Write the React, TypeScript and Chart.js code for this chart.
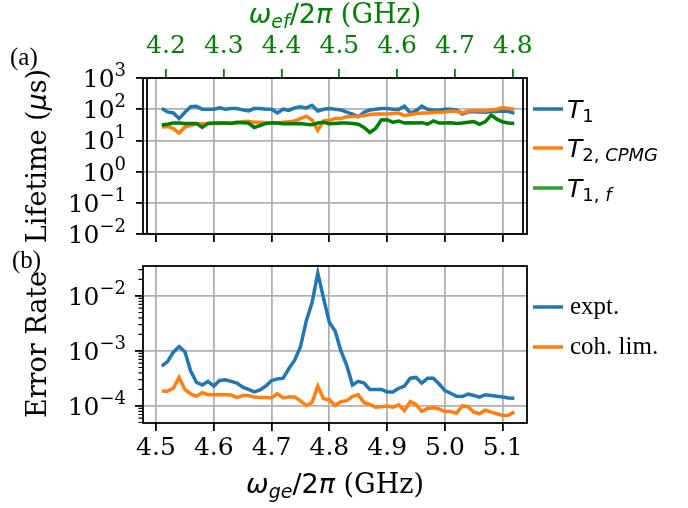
import React, { useEffect, useRef } from "react";
import { Chart, registerables } from "chart.js";
Chart.register(...registerables);

// ---------- data ----------
const freqGe = [
  4.51, 4.52, 4.53, 4.54, 4.55, 4.56, 4.57, 4.58, 4.59, 4.6,
  4.61, 4.62, 4.63, 4.64, 4.65, 4.66, 4.67, 4.68, 4.69, 4.7,
  4.71, 4.72, 4.73, 4.74, 4.75, 4.76, 4.77, 4.78, 4.79, 4.8,
  4.81, 4.82, 4.83, 4.84, 4.85, 4.86, 4.87, 4.88, 4.89, 4.9,
  4.91, 4.92, 4.93, 4.94, 4.95, 4.96, 4.97, 4.98, 4.99, 5.0,
  5.01, 5.02, 5.03, 5.04, 5.05, 5.06, 5.07, 5.08, 5.09, 5.1,
  5.11, 5.12,
];
const t1 = [
  105, 82, 76, 50, 80, 120, 125, 100, 100, 100,
  110, 100, 105, 105, 95, 88, 105, 105, 100, 100,
  76, 100, 92, 110, 120, 110, 134, 88, 100, 105,
  100, 95, 80, 70, 57, 80, 95, 100, 105, 105,
  100, 100, 125, 75, 88, 125, 100, 95, 92, 100,
  100, 95, 70, 82, 85, 82, 80, 85, 85, 88,
  85, 73,
];
const t2Cpmg = [
  27, 28, 24, 17, 27, 30, 34, 34, 35, 35,
  35, 36, 36, 36, 40, 40, 38, 38, 37, 37,
  37, 38, 40, 42, 50, 60, 45, 21, 42, 44,
  50, 50, 57, 58, 60, 62, 68, 70, 70, 70,
  73, 75, 62, 68, 72, 76, 76, 78, 80, 82,
  86, 86, 76, 86, 90, 90, 88, 95, 100, 113,
  105, 100,
];
const t1f = [
  31, 33, 36, 36, 35, 35, 35, 26, 35, 36,
  36, 36, 35, 38, 37, 36, 26, 30, 35, 36,
  36, 34, 35, 34, 35, 33, 32, 36, 38, 34,
  35, 36, 36, 35, 33, 26, 18, 24, 45, 46,
  38, 42, 36, 37, 36, 37, 33, 42, 36, 36,
  37, 35, 36, 38, 40, 33, 40, 65, 48, 39,
  36, 35,
];
const errExpt = [
  5.3e-4, 6.4e-4, 9.5e-4, 1.2e-3, 9.7e-4, 4.3e-4, 2.7e-4, 2.4e-4, 2.8e-4, 2.3e-4,
  2.9e-4, 3.0e-4, 2.8e-4, 2.6e-4, 2.2e-4, 2.0e-4, 1.8e-4, 1.95e-4, 2.3e-4, 2.9e-4,
  3.1e-4, 3.2e-4, 4.8e-4, 6.8e-4, 1.2e-3, 3.5e-3, 7.5e-3, 2.6e-2, 9.0e-3, 3.3e-3,
  2.3e-3, 1.0e-3, 5.5e-4, 2.4e-4, 2.8e-4, 2.6e-4, 2.0e-4, 2.0e-4, 2.0e-4, 1.8e-4,
  1.8e-4, 2.1e-4, 2.3e-4, 3.2e-4, 3.3e-4, 2.6e-4, 3.2e-4, 3.2e-4, 2.5e-4, 1.9e-4,
  1.7e-4, 1.5e-4, 1.48e-4, 1.65e-4, 1.55e-4, 1.45e-4, 1.6e-4, 1.55e-4, 1.5e-4, 1.45e-4,
  1.4e-4, 1.38e-4,
];
const errCoh = [
  1.87e-4, 1.85e-4, 2.1e-4, 3.3e-4, 2.0e-4, 1.65e-4, 1.5e-4, 1.75e-4, 1.6e-4, 1.6e-4,
  1.6e-4, 1.6e-4, 1.58e-4, 1.42e-4, 1.55e-4, 1.55e-4, 1.45e-4, 1.43e-4, 1.42e-4, 1.4e-4,
  1.67e-4, 1.4e-4, 1.45e-4, 1.45e-4, 1.24e-4, 1.02e-4, 1.15e-4, 2.3e-4, 1.35e-4, 1.3e-4,
  1.02e-4, 1.2e-4, 1.25e-4, 1.48e-4, 1.6e-4, 1.15e-4, 1.07e-4, 0.95e-4, 0.97e-4, 1.0e-4,
  0.95e-4, 1.05e-4, 0.82e-4, 1.2e-4, 1.07e-4, 0.8e-4, 0.9e-4, 0.93e-4, 0.88e-4, 0.79e-4,
  0.79e-4, 0.74e-4, 1.0e-4, 0.97e-4, 0.77e-4, 0.72e-4, 0.84e-4, 0.77e-4, 0.72e-4, 0.67e-4,
  0.68e-4, 0.78e-4,
];
const geTicks = [4.5, 4.6, 4.7, 4.8, 4.9, 5.0, 5.1];
const efTicks = [4.2, 4.3, 4.4, 4.5, 4.6, 4.7, 4.8];
const efOffset = 0.3173; // omega_ge - omega_ef (GHz)
const geRange = [4.4775, 5.142];
const lifetimeExps = [-2, -1, 0, 1, 2, 3];
const lifetimeRange = [1e-2, 1e3];
const errorExps = [-4, -3, -2];
const errorRange = [4.9e-5, 3.5e-2];

// ---------- style ----------
const BLUE = "#1f77b4";
const ORANGE = "#ff7f0e";
const GREEN = "#008000";
const GREEN_LEG = "#2ca02c";
const GRID = "#b0b0b0";
const SERIF = "'DejaVu Serif'";
const SANS = "'DejaVu Sans'";
const TIMES = "'Liberation Serif'";
const TICK_FONT = `25px ${SERIF}`;
const SUP_FONT = `18px ${SERIF}`;
const LS = 27;

type Run = { text: string; font: string; dy?: number };

function drawRuns(ctx: CanvasRenderingContext2D, runs: Run[], x: number, y: number, align: string, color: string) {
  let w = 0;
  for (const r of runs) {
    ctx.font = r.font;
    w += ctx.measureText(r.text).width;
  }
  let cx = align === "left" ? x : align === "center" ? x - w / 2 : x - w;
  ctx.fillStyle = color;
  ctx.textAlign = "left";
  ctx.textBaseline = "alphabetic";
  for (const r of runs) {
    ctx.font = r.font;
    ctx.fillText(r.text, cx, y + (r.dy || 0));
    cx += ctx.measureText(r.text).width;
  }
}

function pow10Runs(e: number): Run[] {
  return [
    { text: "10", font: TICK_FONT },
    { text: e < 0 ? "\u2212" + -e : String(e), font: SUP_FONT, dy: -11 },
  ];
}

function omegaRuns(sub: string): Run[] {
  return [
    { text: "\u03c9", font: `italic ${LS}px ${SANS}` },
    { text: sub, font: `italic 19px ${SANS}`, dy: 5 },
    { text: "/2", font: `${LS}px ${SANS}` },
    { text: "\u03c0", font: `italic ${LS}px ${SANS}` },
    { text: " (GHz)", font: `${LS}px ${SERIF}` },
  ];
}

function tRuns(sub: Run[]): Run[] {
  return [{ text: "T", font: `italic 25px ${SANS}` }, ...sub];
}
const SUBU = `18px ${SANS}`;
const SUBI = `italic 18px ${SANS}`;
const legendTop = [
  { runs: tRuns([{ text: "1", font: SUBU, dy: 4 }]), color: BLUE, y: 109 },
  {
    runs: tRuns([
      { text: "2", font: SUBU, dy: 4 },
      { text: ", ", font: SUBU, dy: 4 },
      { text: "CPMG", font: SUBI, dy: 4 },
    ]),
    color: ORANGE,
    y: 148,
  },
  {
    runs: tRuns([
      { text: "1", font: SUBU, dy: 4 },
      { text: ", ", font: SUBU, dy: 4 },
      { text: "f", font: SUBI, dy: 4 },
    ]),
    color: GREEN_LEG,
    y: 188,
  },
];
const legendBottom = [
  { text: "expt.", color: BLUE, y: 57 },
  { text: "coh. lim.", color: ORANGE, y: 97 },
];

function xGrid(extra: any = {}) {
  return {
    color: GRID,
    lineWidth: 1.8,
    tickColor: "#000",
    tickLength: 8,
    tickWidth: 1.8,
    drawTicks: true,
    ...extra,
  };
}

function decadeTicks(exps: number[]) {
  return (s: any) => {
    s.ticks = exps.map((e) => ({ value: Math.pow(10, e) }));
  };
}

function valueTicks(vals: number[]) {
  return (s: any) => {
    s.ticks = vals.map((v) => ({ value: v }));
  };
}

const topPlugin = {
  id: "topDecor",
  afterDraw(chart: any) {
    const { ctx, chartArea } = chart;
    const { left, right, top, bottom } = chartArea;
    const y = chart.scales.y;
    ctx.save();
    ctx.strokeStyle = "#000";
    ctx.lineWidth = 1.8;
    ctx.strokeRect(left, top, right - left, bottom - top);
    ctx.beginPath();
    ctx.moveTo(left + 4, top);
    ctx.lineTo(left + 4, bottom);
    ctx.moveTo(right - 4, top);
    ctx.lineTo(right - 4, bottom);
    ctx.stroke();
    for (const e of lifetimeExps) {
      const py = y.getPixelForValue(Math.pow(10, e));
      drawRuns(ctx, pow10Runs(e), 126, py + 9, "right", "#000");
    }
    drawRuns(ctx, omegaRuns("ef"), (left + right) / 2, 23, "center", GREEN);
    drawRuns(ctx, [{ text: "(a)", font: `25px ${TIMES}` }], 10, 65, "left", "#000");
    for (const item of legendTop) {
      ctx.strokeStyle = item.color;
      ctx.lineWidth = 3.5;
      ctx.beginPath();
      ctx.moveTo(533, item.y);
      ctx.lineTo(563, item.y);
      ctx.stroke();
      drawRuns(ctx, item.runs, 567, item.y + 9, "left", "#000");
    }
    ctx.translate(46, (top + bottom) / 2);
    ctx.rotate(-Math.PI / 2);
    drawRuns(
      ctx,
      [
        { text: "Lifetime (", font: `${LS}px ${SERIF}` },
        { text: "\u03bc", font: `italic ${LS}px ${SANS}` },
        { text: "s)", font: `${LS}px ${SERIF}` },
      ],
      0,
      0,
      "center",
      "#000"
    );
    ctx.restore();
  },
};

const bottomPlugin = {
  id: "bottomDecor",
  afterDraw(chart: any) {
    const { ctx, chartArea } = chart;
    const { left, right, top, bottom } = chartArea;
    const y = chart.scales.y;
    ctx.save();
    ctx.strokeStyle = "#000";
    ctx.lineWidth = 1.8;
    ctx.strokeRect(left, top, right - left, bottom - top);
    // minor ticks
    ctx.lineWidth = 1.2;
    ctx.beginPath();
    for (let d = -5; d <= -1; d++) {
      for (let k = 2; k <= 9; k++) {
        const v = k * Math.pow(10, d);
        if (v < y.min || v > y.max) continue;
        const py = y.getPixelForValue(v);
        ctx.moveTo(left - 4.5, py);
        ctx.lineTo(left, py);
      }
    }
    ctx.stroke();
    for (const e of errorExps) {
      const py = y.getPixelForValue(Math.pow(10, e));
      drawRuns(ctx, pow10Runs(e), 126, py + 9, "right", "#000");
    }
    drawRuns(ctx, omegaRuns("ge"), (left + right) / 2, 243, "center", "#000");
    drawRuns(ctx, [{ text: "(b)", font: `25px ${TIMES}` }], 12, 18, "left", "#000");
    for (const item of legendBottom) {
      ctx.strokeStyle = item.color;
      ctx.lineWidth = 3.5;
      ctx.beginPath();
      ctx.moveTo(533, item.y);
      ctx.lineTo(563, item.y);
      ctx.stroke();
      drawRuns(ctx, [{ text: item.text, font: `25px ${TIMES}` }], 570, item.y + 7, "left", "#000");
    }
    ctx.translate(46, (top + bottom) / 2);
    ctx.rotate(-Math.PI / 2);
    drawRuns(ctx, [{ text: "Error Rate", font: `${LS}px ${SERIF}` }], 0, 0, "center", "#000");
    ctx.restore();
  },
};

function line(label: string, ys: number[], color: string, order: number) {
  return {
    label,
    data: freqGe.map((x, i) => ({ x, y: ys[i] })),
    borderColor: color,
    backgroundColor: color,
    borderWidth: 3.5,
    pointRadius: 0,
    tension: 0,
    fill: false,
    order,
  };
}

function topConfig(): any {
  return {
    type: "line",
    data: {
      datasets: [
        line("T1", t1, BLUE, 2),
        line("T2,CPMG", t2Cpmg, ORANGE, 1),
        line("T1,f", t1f, GREEN, 0),
      ],
    },
    options: {
      responsive: false,
      animation: false,
      devicePixelRatio: 1,
      events: [],
      layout: { padding: { left: 0, right: 161, top: 0, bottom: 0 } },
      plugins: { legend: { display: false }, tooltip: { enabled: false } },
      scales: {
        x: {
          type: "linear",
          position: "bottom",
          min: geRange[0],
          max: geRange[1],
          afterBuildTicks: valueTicks(geTicks),
          afterFit: (s: any) => {
            s.height = 16;
          },
          ticks: { display: false },
          grid: xGrid(),
          border: { display: false },
        },
        xTop: {
          type: "linear",
          position: "top",
          min: geRange[0] - efOffset,
          max: geRange[1] - efOffset,
          afterBuildTicks: valueTicks(efTicks),
          afterFit: (s: any) => {
            s.height = 78;
          },
          ticks: {
            color: GREEN,
            font: { family: "DejaVu Serif", size: 25 },
            padding: 8,
            autoSkip: false,
            maxRotation: 0,
            callback: (v: number) => v.toFixed(1),
          },
          grid: xGrid({ drawOnChartArea: false, tickColor: GREEN, tickLength: 9 }),
          border: { display: false },
        },
        y: {
          type: "logarithmic",
          position: "left",
          min: lifetimeRange[0],
          max: lifetimeRange[1],
          afterBuildTicks: decadeTicks(lifetimeExps),
          afterFit: (s: any) => {
            s.width = 143;
          },
          ticks: { display: false },
          grid: xGrid({ tickLength: 7 }),
          border: { display: false },
        },
      },
    },
    plugins: [topPlugin],
  };
}

function bottomConfig(): any {
  return {
    type: "line",
    data: {
      datasets: [line("expt.", errExpt, BLUE, 1), line("coh. lim.", errCoh, ORANGE, 0)],
    },
    options: {
      responsive: false,
      animation: false,
      devicePixelRatio: 1,
      events: [],
      layout: { padding: { left: 0, right: 161, top: 16, bottom: 0 } },
      plugins: { legend: { display: false }, tooltip: { enabled: false } },
      scales: {
        x: {
          type: "linear",
          position: "bottom",
          min: geRange[0],
          max: geRange[1],
          afterBuildTicks: valueTicks(geTicks),
          afterFit: (s: any) => {
            s.height = 85;
          },
          ticks: {
            color: "#000",
            font: { family: "DejaVu Serif", size: 25 },
            padding: 2,
            autoSkip: false,
            maxRotation: 0,
            callback: (v: number) => v.toFixed(1),
          },
          grid: xGrid(),
          border: { display: false },
        },
        y: {
          type: "logarithmic",
          position: "left",
          min: errorRange[0],
          max: errorRange[1],
          afterBuildTicks: decadeTicks(errorExps),
          afterFit: (s: any) => {
            s.width = 143;
          },
          ticks: { display: false },
          grid: xGrid({ tickLength: 8 }),
          border: { display: false },
        },
      },
    },
    plugins: [bottomPlugin],
  };
}

export default function App() {
  const topRef = useRef<HTMLCanvasElement>(null);
  const botRef = useRef<HTMLCanvasElement>(null);
  useEffect(() => {
    const c1 = new Chart(topRef.current as HTMLCanvasElement, topConfig());
    const c2 = new Chart(botRef.current as HTMLCanvasElement, bottomConfig());
    return () => {
      c1.destroy();
      c2.destroy();
    };
  }, []);
  return (
    <div style={{ position: "fixed", left: 0, top: 0, width: 688, height: 508, background: "#fff" }}>
      <canvas
        ref={topRef}
        width={688}
        height={250}
        style={{ position: "absolute", left: 0, top: 0, width: 688, height: 250 }}
      />
      <canvas
        ref={botRef}
        width={688}
        height={258}
        style={{ position: "absolute", left: 0, top: 250, width: 688, height: 258 }}
      />
    </div>
  );
}
